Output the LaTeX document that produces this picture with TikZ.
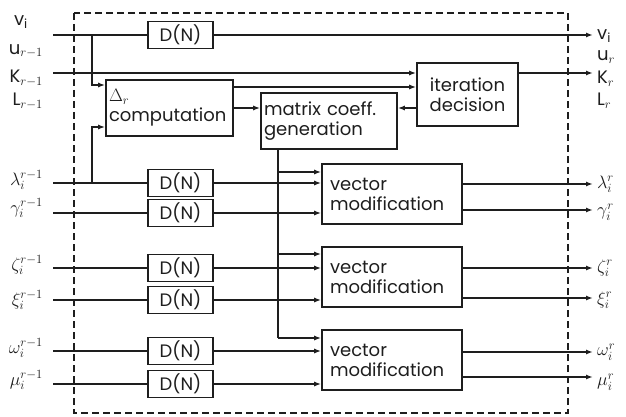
\RequirePackage{fix-cm}
\documentclass[tikz,border=0pt]{standalone}
\usepackage{fontspec}
\setmainfont{Poppins}
\usetikzlibrary{arrows.meta,calc}
\definecolor{ink}{HTML}{1E1E1E}
\begin{document}
\begin{tikzpicture}[x={(1pt,0pt)},y={(0pt,-1pt)},
  ln/.style={line width=1.6pt,draw=ink},
  arr/.style={ln,-{Latex[length=7pt,width=5pt]}},
  blk/.style={draw=ink,line width=1.6pt,inner sep=0pt,text=ink,font=\fontsize{18}{20}\selectfont},
  dn/.style={blk,minimum width=65pt,minimum height=27pt,font=\fontsize{18}{18}\selectfont},
  lab/.style={inner sep=1pt,text=ink,font=\fontsize{18}{18}\selectfont}]
\useasboundingbox[fill=white] (0,0) rectangle (626,417);
% dashed frame
\draw[ink,line width=1.3pt,dash pattern=on 7pt off 4pt] (74,13) rectangle (568,413);
% blocks
\node[dn] (dn0) at (180.5,35) {D(N)};
\node[blk,minimum width=127pt,minimum height=56pt,text width=121pt,inner xsep=3pt,align=left] (delta) at (169.5,108) {$\Delta_r$\\computation};
\node[blk,minimum width=136pt,minimum height=56pt,text width=130pt,inner xsep=3pt,align=left] (matrix) at (329,121) {matrix coeff.\\generation};
\node[blk,minimum width=101pt,minimum height=63pt,text width=95pt,inner xsep=3pt,align=center] (iter) at (467.5,94.5) {iteration\\decision};
\node[blk,minimum width=140pt,minimum height=60pt,text width=124pt,inner xsep=8pt,align=left] (vm1) at (392,194) {vector\\modification};
\node[blk,minimum width=140pt,minimum height=60pt,text width=124pt,inner xsep=8pt,align=left] (vm2) at (392,277) {vector\\modification};
\node[blk,minimum width=140pt,minimum height=60pt,text width=124pt,inner xsep=8pt,align=left] (vm3) at (392,360) {vector\\modification};
% coordinates
\coordinate (vin) at (53,35);
\coordinate (kin) at (53,73);
\coordinate (vout) at (593,35);
\coordinate (kout) at (593,73);
\coordinate (j1) at (92,35);
\coordinate (j2) at (92,183);
\coordinate (mt) at (278,149);
\coordinate (mb) at (278,338);
% top connections
\draw[ln] (vin) -- (dn0);
\draw[arr] (dn0) -- (vout);
\draw[arr] (kin) -- (iter.west |- kin);
\draw[arr] (j1) |- (delta.west |- 0,85);
\draw[arr] (j2) |- (delta.west |- 0,127);
\draw[arr] (delta.east |- 0,87) -- (iter.west |- 0,87);
\draw[arr] (delta.east |- 0,108) -- (matrix.west |- 0,108);
\draw[arr] (iter.west |- 0,108) -- (matrix.east |- 0,108);
\draw[arr] (iter.east |- kout) -- (kout);
% matrix distribution
\draw[ln] (mt) -- (mb);
\foreach \y/\v in {172/vm1,254/vm2,338/vm3}
  \draw[arr] (mt |- 0,\y) -- (\v.west |- 0,\y);
% lower rows
\foreach \i/\y/\v in {1/183/vm1,2/213/vm1,3/268/vm2,4/300/vm2,5/351/vm3,6/384/vm3}{
  \node[dn] (dn\i) at (180.5,\y) {D(N)};
  \coordinate (in\i) at (53,\y);
  \draw[ln] (in\i) -- (dn\i);
  \draw[arr] (dn\i) -- (\v.west |- dn\i);
}
\foreach \y/\v in {184/vm1,210/vm1,268/vm2,298/vm2,352/vm3,377/vm3}
  \draw[arr] (\v.east |- 0,\y) -- (593,\y);
% left labels
\node[lab] (lv) at (21,22) {v$_{\mathrm{i}}$};
\node[lab,anchor=east] (lu) at (44,51) {u$_{r-1}$};
\node[lab,anchor=east] (lk) at (44,78) {K$_{r-1}$};
\node[lab,anchor=east] (ll) at (44,101) {L$_{r-1}$};
\node[lab,anchor=east] (l1) at (44,180) {$\lambda_i^{r-1}$};
\node[lab,anchor=east] (l2) at (44,208) {$\gamma_i^{r-1}$};
\node[lab,anchor=east] (l3) at (44,265) {$\zeta_i^{r-1}$};
\node[lab,anchor=east] (l4) at (44,300) {$\xi_i^{r-1}$};
\node[lab,anchor=east] (l5) at (44,348) {$\omega_i^{r-1}$};
\node[lab,anchor=east] (l6) at (44,380) {$\mu_i^{r-1}$};
% right labels
\node[lab,anchor=west] (rv) at (596,36) {v$_{\mathrm{i}}$};
\node[lab,anchor=west] (ru) at (596,57) {u$_r$};
\node[lab,anchor=west] (rk) at (596,79) {K$_r$};
\node[lab,anchor=west] (rl) at (596,101) {L$_r$};
\node[lab,anchor=west] (r1) at (596,184) {$\lambda_i^r$};
\node[lab,anchor=west] (r2) at (596,212) {$\gamma_i^r$};
\node[lab,anchor=west] (r3) at (596,268) {$\zeta_i^r$};
\node[lab,anchor=west] (r4) at (596,300) {$\xi_i^r$};
\node[lab,anchor=west] (r5) at (596,352) {$\omega_i^r$};
\node[lab,anchor=west] (r6) at (596,382) {$\mu_i^r$};
\end{tikzpicture}
\end{document}
